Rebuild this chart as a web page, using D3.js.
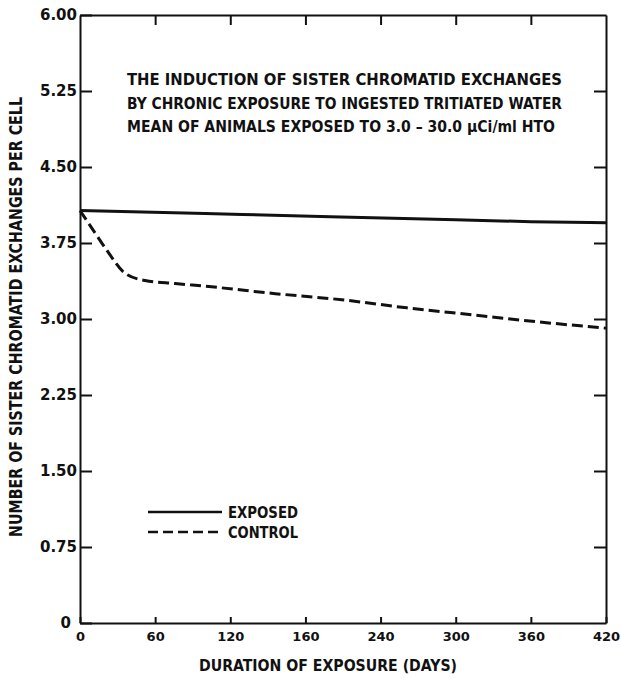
<!DOCTYPE html>
<html>
<head>
<meta charset="utf-8">
<script src="https://cdn.jsdelivr.net/npm/d3@7"></script>
<style>
  body { margin: 0; background: #fff; }
  text { font-family: "DejaVu Sans Condensed", "DejaVu Sans", sans-serif; font-weight: bold; fill: #111; }
</style>
</head>
<body>
<div id="chart"></div>
<script>
// data
const exposedDays = [0, 100, 200, 300, 360, 420];
const exposedSCE = [4.07, 4.04, 4.01, 3.98, 3.96, 3.95];
const controlDays = [0, 12, 23, 36, 52, 76, 103, 156, 209, 261, 314, 367, 420];
const controlSCE = [4.07, 3.85, 3.65, 3.45, 3.38, 3.35, 3.32, 3.25, 3.19, 3.11, 3.04, 2.97, 2.91];
const xTicks = [0, 60, 120, 180, 240, 300, 360, 420];
const xTickLabels = ["0", "60", "120", "160", "240", "300", "360", "420"]; // "160" as printed
const yTicks = [0, 0.75, 1.5, 2.25, 3, 3.75, 4.5, 5.25, 6];
const titleLines = [
  "THE INDUCTION OF SISTER CHROMATID EXCHANGES",
  "BY CHRONIC EXPOSURE TO INGESTED TRITIATED WATER",
  "MEAN OF ANIMALS EXPOSED TO 3.0 \u2013 30.0 \u03bcCi/ml HTO"
];
const legendLabels = ["EXPOSED", "CONTROL"];

const W = 621, H = 679;
const svg = d3.select('#chart').append('svg')
  .attr('width', W)
  .attr('height', H);

const x = d3.scaleLinear().domain([0, 420]).range([80, 606]);
const y = d3.scaleLinear().domain([0, 6]).range([623, 15]);

// axes, ticks pointing inward
const axisStyle = g => {
  g.selectAll('path, line').attr('stroke', '#111').attr('stroke-width', 2);
  g.selectAll('text').attr('fill', '#111');
};

svg.append('g')
  .attr('transform', `translate(0,${y(0)})`)
  .call(d3.axisBottom(x).tickValues(xTicks).tickSizeInner(-6).tickSizeOuter(0).tickPadding(9)
    .tickFormat((d, i) => xTickLabels[i]))
  .call(axisStyle)
  .call(g => g.selectAll('text').style('font-family', '"DejaVu Sans", sans-serif').attr('font-size', 13));

svg.append('g')
  .attr('transform', `translate(0,${y(6)})`)
  .call(d3.axisTop(x).tickValues(xTicks.slice(1, -1)).tickSizeInner(-10).tickSizeOuter(0).tickFormat(''))
  .call(axisStyle);

svg.append('g')
  .attr('transform', `translate(${x(0)},0)`)
  .call(d3.axisLeft(y).tickValues(yTicks).tickSizeInner(-12).tickSizeOuter(0).tickPadding(3)
    .tickFormat(d => d === 0 ? '0' : d3.format('.2f')(d)))
  .call(axisStyle)
  .call(g => g.selectAll('text').style('font-family', '"DejaVu Sans", sans-serif').attr('font-size', 15))
  .call(g => g.selectAll('.tick').filter(d => d === 0).select('text').attr('x', -9));

svg.append('g')
  .attr('transform', `translate(${x(420)},0)`)
  .call(d3.axisRight(y).tickValues(yTicks.slice(1, -1)).tickSizeInner(-12).tickSizeOuter(0).tickFormat(''))
  .call(axisStyle);

// series
const exposed = exposedDays.map((d, i) => [d, exposedSCE[i]]);
const control = controlDays.map((d, i) => [d, controlSCE[i]]);
const line = d3.line().x(d => x(d[0])).y(d => y(d[1])).curve(d3.curveMonotoneX);

svg.append('path')
  .datum(exposed)
  .attr('d', line)
  .attr('fill', 'none')
  .attr('stroke', '#111')
  .attr('stroke-width', 3);

svg.append('path')
  .datum(control)
  .attr('d', line)
  .attr('fill', 'none')
  .attr('stroke', '#111')
  .attr('stroke-width', 3)
  .attr('stroke-dasharray', '11,5');

// title block
const titleLen = [435, 435, 428];
titleLines.forEach((t, i) => {
  svg.append('text')
    .text(t)
    .attr('x', 127)
    .attr('y', 85 + i * 23.5)
    .attr('font-size', 16)
    .attr('textLength', titleLen[i])
    .attr('lengthAdjust', 'spacingAndGlyphs');
});

// legend
legendLabels.forEach((lab, i) => {
  const ly = 512 + i * 20;
  svg.append('line')
    .attr('x1', 148).attr('x2', 222)
    .attr('y1', ly).attr('y2', ly)
    .attr('stroke', '#111')
    .attr('stroke-width', 2.5)
    .attr('stroke-dasharray', i === 1 ? '10,5' : null);
  svg.append('text')
    .text(lab)
    .attr('x', 228)
    .attr('y', ly + 6)
    .attr('font-size', 15)
    .attr('textLength', 70)
    .attr('lengthAdjust', 'spacingAndGlyphs');
});

// axis titles
svg.append('text')
  .text('DURATION OF EXPOSURE (DAYS)')
  .attr('x', 199)
  .attr('y', 671)
  .attr('font-size', 16)
  .attr('textLength', 258)
  .attr('lengthAdjust', 'spacingAndGlyphs');

svg.append('text')
  .text('NUMBER OF SISTER CHROMATID EXCHANGES PER CELL')
  .attr('transform', 'translate(21.5,317) rotate(-90)')
  .attr('text-anchor', 'middle')
  .attr('font-size', 17)
  .attr('textLength', 440)
  .attr('lengthAdjust', 'spacingAndGlyphs');
</script>
</body>
</html>
